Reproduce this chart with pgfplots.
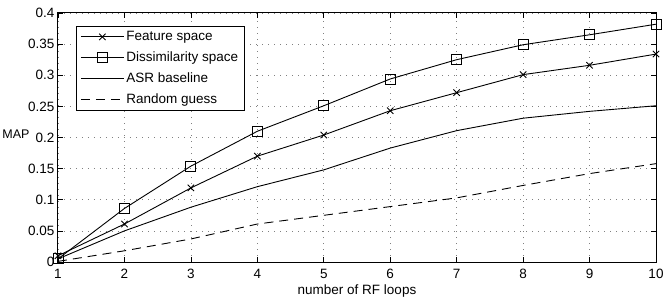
\documentclass[border=0pt]{standalone}
\usepackage{fontspec}
\setmainfont{Liberation Sans}
\usepackage{pgfplots}
\pgfplotsset{compat=1.18}
\usetikzlibrary{calc}
\begin{document}
\begin{tikzpicture}
\begin{axis}[
  name=ax,
  scale only axis,
  width=598pt, height=249pt,
  xmin=1, xmax=10, ymin=0, ymax=0.4,
  xtick={1,...,10},
  ytick={0,0.05,...,0.4},
  yticklabels={0,0.05,0.1,0.15,0.2,0.25,0.3,0.35,0.4},
  /pgf/number format/assume math mode=true,
  tick align=inside,
  major tick length=5pt,
  tick style={black, line width=0.6pt},
  axis line style={line width=1pt},
  grid=major,
  major grid style={dash pattern=on 1pt off 5pt, gray, line width=0.7pt},
  font=\fontsize{13.5}{16}\selectfont,
  tick label style={font=\fontsize{13.5}{16}\selectfont},
  xticklabel style={anchor=base, yshift=-16pt},
  xlabel={number of RF loops},
  every axis x label/.style={at={(axis description cs:0.5,0)}, anchor=base, yshift=-32pt},
  ylabel={MAP},
  every axis y label/.style={at={(axis description cs:0,0.5)}, anchor=base east, xshift=-25pt, yshift=-1.5pt, font=\fontsize{12.5}{15}\selectfont},
  legend style={at={(axis description cs:0,1)}, anchor=north west, xshift=18pt, yshift=-13pt,
    draw=black, line width=0.8pt,
    font=\fontsize{13.5}{16}\selectfont, row sep=6pt, inner xsep=4pt, inner ysep=3pt,
    nodes={inner xsep=2pt, inner ysep=0pt, text height=11pt, text depth=4pt}},
  legend cell align=left,
  legend image code/.code={\draw[#1, mark repeat=2, mark phase=2] plot coordinates {(0pt,0pt) (21.5pt,0pt) (43pt,0pt)};},
  every axis plot/.append style={black, line width=0.9pt},
]
\addplot[mark=x, mark size=4.5pt, mark options={solid, line width=0.9pt}] coordinates {
(1,0.010) (2,0.061) (3,0.119) (4,0.170) (5,0.204) (6,0.243) (7,0.272) (8,0.301) (9,0.316) (10,0.334)};
\addlegendentry{Feature space}
\addplot[mark=square, mark size=5pt, mark options={solid, line width=0.9pt}] coordinates {
(1,0.005) (2,0.086) (3,0.154) (4,0.210) (5,0.251) (6,0.294) (7,0.325) (8,0.349) (9,0.365) (10,0.382)};
\addlegendentry{Dissimilarity space}
\addplot[no marks] coordinates {
(1,0.005) (2,0.050) (3,0.088) (4,0.121) (5,0.148) (6,0.183) (7,0.211) (8,0.231) (9,0.242) (10,0.251)};
\addlegendentry{ASR baseline}
\addplot[no marks, dash pattern=on 9pt off 6pt] coordinates {
(1,0.001) (2,0.018) (3,0.037) (4,0.061) (5,0.075) (6,0.089) (7,0.103) (8,0.123) (9,0.142) (10,0.158)};
\addlegendentry{Random guess}
\end{axis}
\pgfresetboundingbox
\path[use as bounding box] ($(ax.south west)+(-58pt,-35pt)$) rectangle ($(ax.north east)+(10pt,13pt)$);
\end{tikzpicture}
\end{document}
